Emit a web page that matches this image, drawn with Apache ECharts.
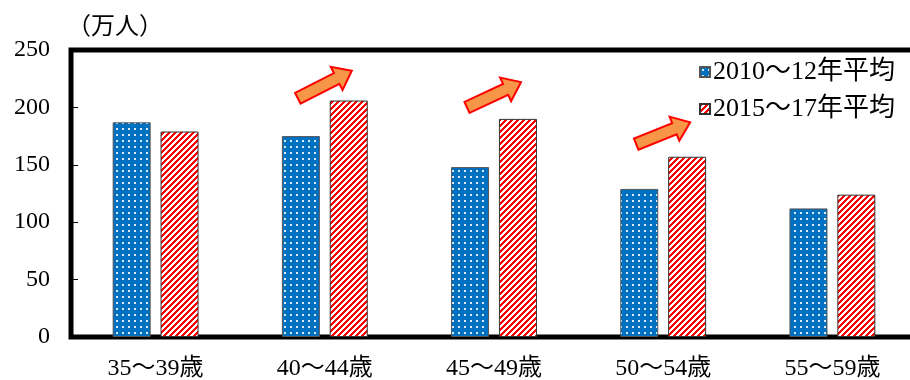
<!DOCTYPE html>
<html>
<head>
<meta charset="utf-8">
<script src="https://cdn.jsdelivr.net/npm/echarts@6/dist/echarts.min.js"></script>
<style>html,body{margin:0;padding:0;background:#fff;}</style>
</head>
<body>
<div id="main" style="width:910px;height:380px;"></div>
<script>
var categories = ['35～39歳', '40～44歳', '45～49歳', '50～54歳', '55～59歳'];
var series2010 = [187, 175, 148, 129, 112];
var series2015 = [179, 206, 190, 157, 124];
var seriesNames = ['2010～12年平均', '2015～17年平均'];
// arrows: [category index, tail value, tip value]
var arrows = [[1, 208, 232], [2, 200, 222], [3, 168, 187]];

var FONT = '"Liberation Serif", "Noto Sans CJK JP", serif';

// 青地に白ドット
function dotPattern() {
    var c = document.createElement('canvas');
    c.width = 6; c.height = 6;
    var ctx = c.getContext('2d');
    ctx.fillStyle = '#0070C0';
    ctx.fillRect(0, 0, 6, 6);
    ctx.fillStyle = '#dcecff';
    ctx.fillRect(2, 2, 2, 2);
    return c;
}
// 赤白の斜線
function stripePattern() {
    var c = document.createElement('canvas');
    c.width = 6; c.height = 6;
    var ctx = c.getContext('2d');
    for (var x = 0; x < 6; x++) {
        for (var y = 0; y < 6; y++) {
            ctx.fillStyle = ((x + y) % 6) < 3 ? '#FF0000' : '#FFFFFF';
            ctx.fillRect(x, y, 1, 1);
        }
    }
    return c;
}

var myChart = echarts.init(document.getElementById('main'));

var option = {
    animation: false,
    title: {
        text: '（万人）',
        left: 62,
        top: 11,
        textStyle: {fontFamily: FONT, fontSize: 24, fontWeight: 'normal', color: '#000'}
    },
    legend: {
        orient: 'vertical',
        left: 694,
        top: 54,
        itemWidth: 10,
        itemHeight: 10,
        itemGap: 11,
        icon: 'rect',
        textStyle: {fontFamily: FONT, fontSize: 26, color: '#000', padding: [0, 0, 0, -2]},
        data: seriesNames
    },
    grid: {
        left: 71,
        right: -7,
        top: 50,
        bottom: 43,
        outerBoundsMode: 'none',
        show: true,
        borderColor: '#000',
        borderWidth: 5
    },
    xAxis: {
        type: 'category',
        data: categories,
        axisLine: {show: false},
        axisTick: {show: false},
        axisLabel: {fontFamily: FONT, fontSize: 24, color: '#000', margin: 20}
    },
    yAxis: {
        type: 'value',
        min: 0,
        max: 250,
        interval: 50,
        splitLine: {show: false},
        axisLine: {show: false},
        axisTick: {show: true, inside: true, length: 7, lineStyle: {color: '#000', width: 1}},
        axisLabel: {fontFamily: FONT, fontSize: 24, color: '#000', margin: 21}
    },
    series: [
        {
            name: seriesNames[0],
            type: 'bar',
            barWidth: 38,
            barGap: '26%',
            data: series2010,
            itemStyle: {color: {image: dotPattern(), repeat: 'repeat'}, borderColor: '#555', borderWidth: 1}
        },
        {
            name: seriesNames[1],
            type: 'bar',
            barWidth: 38,
            data: series2015,
            itemStyle: {color: {image: stripePattern(), repeat: 'repeat'}, borderColor: '#333', borderWidth: 1}
        }
    ]
};

myChart.setOption(option);

// 矢印（カテゴリ中心に配置）
function arrowPoints(t, p) {
    var dx = p[0] - t[0], dy = p[1] - t[1];
    var len = Math.sqrt(dx * dx + dy * dy);
    var ux = dx / len, uy = dy / len;
    var nx = -uy, ny = ux;
    var body = 6, head = 13, headLen = 17;
    var hx = p[0] - ux * headLen, hy = p[1] - uy * headLen;
    return [
        [t[0] + nx * body, t[1] + ny * body],
        [hx + nx * body, hy + ny * body],
        [hx + nx * head, hy + ny * head],
        [p[0], p[1]],
        [hx - nx * head, hy - ny * head],
        [hx - nx * body, hy - ny * body],
        [t[0] - nx * body, t[1] - ny * body]
    ];
}

var graphics = arrows.map(function (a) {
    var c = myChart.convertToPixel({gridIndex: 0}, [a[0], 0]);
    var ty = myChart.convertToPixel({gridIndex: 0}, [a[0], a[1]])[1];
    var py = myChart.convertToPixel({gridIndex: 0}, [a[0], a[2]])[1];
    return {
        type: 'polygon',
        shape: {points: arrowPoints([c[0] - 27, ty], [c[0] + 27, py])},
        style: {fill: '#F79646', stroke: '#FF0000', lineWidth: 2},
        z: 100
    };
});
myChart.setOption({graphic: graphics});
</script>
</body>
</html>
